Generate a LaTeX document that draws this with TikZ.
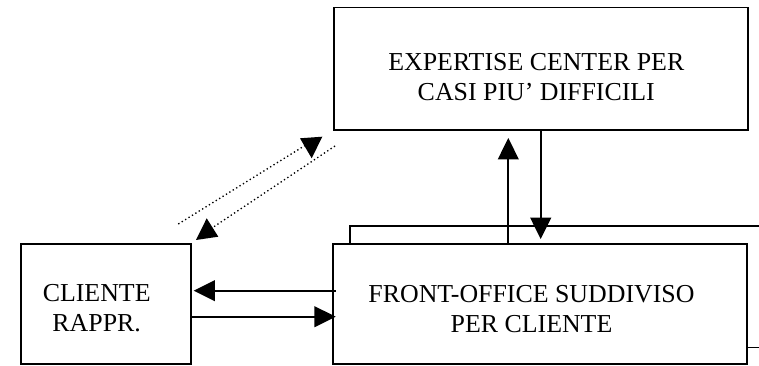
\documentclass[tikz,border=0pt]{standalone}
\usepackage{fontspec}
\setmainfont{Liberation Serif}
\usetikzlibrary{arrows.meta,fit}

\begin{document}
\begin{tikzpicture}[x=0.75pt,y=-0.75pt,
  box/.style={draw=black,line width=1.4pt,inner sep=0pt,fill=white},
  label/.style={inner sep=0pt,align=center,font=\fontsize{19.4}{22.5}\selectfont},
  arr/.style={line width=1.4pt,-{Triangle[length=16pt,width=15.5pt]}},
  dotline/.style={line width=1pt,dash pattern=on 1pt off 2pt},
  headfill/.style={fill=black}]
\useasboundingbox (0,0) rectangle (759,366);
\clip (0,0) rectangle (759,366);

% expertise centre
\node[box,fit={(334,7.5) (748.3,130)}] (exp) {};
\node[label] (expt) at (536.3,76.7) {EXPERTISE CENTER PER\\CASI PIU’ DIFFICILI};

% stacked front-office boxes
\node[box,fit={(350,226) (780,347.5)}] (back) {};
\node[box,fit={(332.7,244) (746.7,364)}] (front) {};
\node[label] (frontt) at (531.5,309) {FRONT-OFFICE SUDDIVISO\\PER CLIENTE};

% client box
\node[box,fit={(20.7,244) (190.7,364)}] (cli) {};
\node[label] (clit) at (96.7,308) {CLIENTE\\RAPPR.};

% vertical links between front office and expertise centre
\coordinate (xu) at (508.3,0);
\coordinate (xd) at (540.7,0);
\draw[arr,shorten >=5.3pt] (front.north -| xu) -- (exp.south -| xu);
\draw[arr,shorten >=3pt] (exp.south -| xd) -- (front.north -| xd);

% horizontal links between client and front office
\coordinate (ya) at (0,290.7);
\coordinate (yb) at (0,316.7);
\draw[arr,shorten <=-3pt,shorten >=1.5pt] (front.west |- ya) -- (cli.east |- ya);
\draw[arr,shorten >=-3pt] (cli.east |- yb) -- (front.west |- yb);

% dotted links between client and expertise centre
\coordinate (d1s) at (178.3,224);
\coordinate (d1e) at (309,143);
\coordinate (d2s) at (335,146);
\coordinate (d2e) at (209,230);
\draw[dotline] (d1s) -- (d1e);
\draw[dotline] (d2s) -- (d2e);
\fill[headfill] (300,138.3) -- (322.3,136.7) -- (311.7,158.3) -- cycle;
\fill[headfill] (206.7,218.3) -- (218.3,236.7) -- (196,240) -- cycle;
\end{tikzpicture}
\end{document}
